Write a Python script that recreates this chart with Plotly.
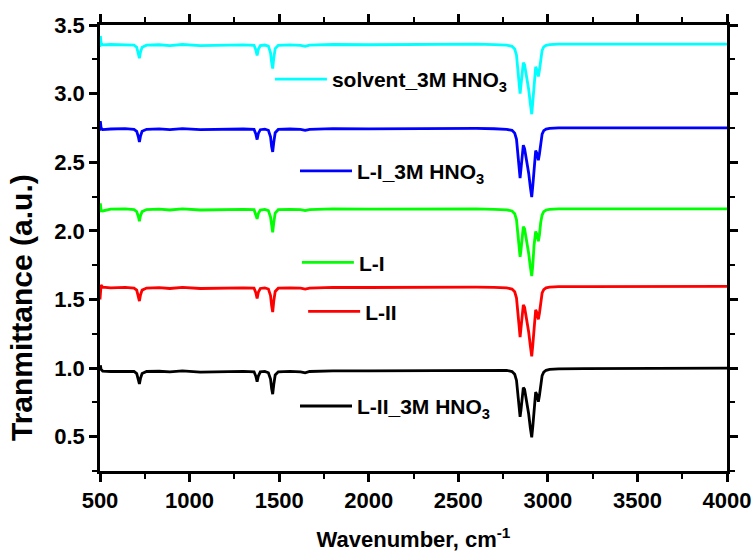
import plotly.graph_objects as go

wavenumber = [500, 502, 506, 515, 560, 640, 690, 705, 714, 720, 726, 735, 760, 830, 890, 960,
              1060, 1131, 1220, 1300, 1360, 1370, 1377, 1384, 1395, 1420, 1440, 1452, 1458, 1464,
              1470, 1478, 1495, 1560, 1620, 1645, 1670, 1800, 2000, 2200, 2400, 2600, 2700, 2770,
              2800, 2815, 2825, 2833, 2840, 2845, 2850, 2857, 2863, 2870, 2882, 2893, 2902, 2910,
              2916, 2923, 2932, 2940, 2947, 2953, 2960, 2968, 2977, 2990, 3010, 3060, 3200, 3500,
              3800, 4000]

solvent_3M = [3.34, 3.42, 3.37, 3.355, 3.358, 3.355, 3.353, 3.338, 3.298, 3.258, 3.303, 3.338, 3.353,
              3.356, 3.35, 3.358, 3.35, 3.352, 3.358, 3.355, 3.352, 3.318, 3.278, 3.323, 3.35, 3.354,
              3.346, 3.298, 3.228, 3.183, 3.258, 3.328, 3.352, 3.355, 3.352, 3.345, 3.353, 3.358,
              3.356, 3.358, 3.357, 3.36, 3.357, 3.353, 3.345, 3.325, 3.28, 3.19, 3.07, 3.00, 3.06,
              3.18, 3.225, 3.21, 3.13, 3.03, 2.93, 2.85, 2.94, 3.09, 3.195, 3.17, 3.125, 3.17, 3.26,
              3.315, 3.34, 3.352, 3.357, 3.36, 3.36, 3.361, 3.36, 3.36]

LI_3M = [2.73, 2.80, 2.75, 2.738, 2.742, 2.745, 2.74, 2.725, 2.685, 2.647, 2.69, 2.725, 2.74, 2.743,
         2.737, 2.745, 2.737, 2.739, 2.745, 2.742, 2.739, 2.705, 2.665, 2.71, 2.737, 2.741, 2.733,
         2.685, 2.615, 2.575, 2.645, 2.715, 2.739, 2.742, 2.739, 2.732, 2.74, 2.745, 2.743, 2.745,
         2.744, 2.746, 2.744, 2.74, 2.732, 2.712, 2.667, 2.577, 2.455, 2.384, 2.447, 2.568, 2.624,
         2.60, 2.52, 2.42, 2.32, 2.246, 2.33, 2.48, 2.585, 2.56, 2.515, 2.56, 2.65, 2.705, 2.73,
         2.742, 2.747, 2.75, 2.75, 2.751, 2.75, 2.75]

LI = [2.135, 2.20, 2.15, 2.145, 2.158, 2.16, 2.155, 2.14, 2.105, 2.07, 2.11, 2.14, 2.155, 2.158,
      2.152, 2.16, 2.152, 2.154, 2.16, 2.157, 2.154, 2.122, 2.087, 2.127, 2.152, 2.156, 2.148, 2.10,
      2.03, 1.99, 2.06, 2.13, 2.154, 2.157, 2.154, 2.147, 2.155, 2.16, 2.158, 2.16, 2.158, 2.16,
      2.157, 2.153, 2.145, 2.125, 2.08, 1.99, 1.87, 1.81, 1.86, 1.98, 2.03, 2.015, 1.935, 1.835,
      1.74, 1.67, 1.75, 1.895, 1.995, 1.97, 1.925, 1.97, 2.06, 2.115, 2.14, 2.152, 2.157, 2.16,
      2.16, 2.161, 2.16, 2.16]

LII = [1.50, 1.60, 1.605, 1.59, 1.585, 1.588, 1.583, 1.568, 1.528, 1.488, 1.533, 1.568, 1.583,
       1.586, 1.58, 1.588, 1.58, 1.582, 1.588, 1.585, 1.582, 1.548, 1.508, 1.553, 1.58, 1.584,
       1.576, 1.528, 1.455, 1.408, 1.488, 1.558, 1.582, 1.585, 1.582, 1.575, 1.583, 1.588, 1.587,
       1.589, 1.589, 1.59, 1.588, 1.584, 1.576, 1.556, 1.51, 1.42, 1.30, 1.226, 1.29, 1.41, 1.46,
       1.443, 1.363, 1.263, 1.163, 1.085, 1.17, 1.32, 1.425, 1.40, 1.355, 1.40, 1.49, 1.547,
       1.572, 1.585, 1.59, 1.593, 1.593, 1.594, 1.594, 1.595]

LII_3M = [0.985, 1.02, 0.99, 0.978, 0.975, 0.978, 0.975, 0.96, 0.92, 0.885, 0.925, 0.96, 0.975,
          0.977, 0.972, 0.979, 0.971, 0.973, 0.978, 0.976, 0.973, 0.94, 0.90, 0.942, 0.972, 0.976,
          0.966, 0.92, 0.85, 0.81, 0.88, 0.95, 0.973, 0.976, 0.972, 0.965, 0.975, 0.98, 0.98, 0.982,
          0.983, 0.986, 0.986, 0.983, 0.975, 0.955, 0.91, 0.82, 0.70, 0.645, 0.695, 0.81, 0.858,
          0.845, 0.765, 0.665, 0.565, 0.495, 0.575, 0.72, 0.825, 0.80, 0.755, 0.80, 0.89, 0.945,
          0.97, 0.984, 0.99, 0.994, 0.996, 0.998, 0.999, 1.0]

series_names = ["solvent_3M HNO<sub>3</sub>", "L-I_3M HNO<sub>3</sub>", "L-I", "L-II",
                "L-II_3M HNO<sub>3</sub>"]
series_values = [solvent_3M, LI_3M, LI, LII, LII_3M]
series_colors = ["#00FFFF", "#0000FF", "#00FF00", "#FF0000", "#000000"]
legend_ids = ["legend2", "legend3", "legend4", "legend5", "legend6"]
legend_pos = [(0.271, 0.878), (0.311, 0.672), (0.314, 0.467), (0.324, 0.357), (0.311, 0.145)]

x_ticks = [500, 1000, 1500, 2000, 2500, 3000, 3500, 4000]
y_ticks = [0.5, 1.0, 1.5, 2.0, 2.5, 3.0, 3.5]

FONT = "Liberation Sans, Arial, sans-serif"

fig = go.Figure()
for name, vals, col, lid in zip(series_names, series_values, series_colors, legend_ids):
    fig.add_trace(go.Scatter(x=wavenumber, y=vals, mode="lines", name=name, showlegend=True,
                             line=dict(color=col, width=2.8), legend=lid))

layout_legends = {}
for lid, (lx, ly) in zip(legend_ids, legend_pos):
    layout_legends[lid] = dict(x=lx, y=ly, xanchor="left", yanchor="middle", visible=True,
                               bgcolor="rgba(0,0,0,0)", borderwidth=0, itemwidth=52,
                               font=dict(family=FONT, size=21, color="black", weight="bold"))

axis_common = dict(showline=True, linecolor="black", linewidth=2.5, mirror="allticks",
                   ticks="outside", ticklen=8, tickwidth=2.5, tickcolor="black",
                   showgrid=False, zeroline=False, automargin=False,
                   tickfont=dict(family=FONT, size=22, color="black", weight="bold"))

fig.update_layout(
    width=753, height=552,
    margin=dict(l=100, r=26, t=25, b=81),
    paper_bgcolor="white", plot_bgcolor="white",
    showlegend=True,
    xaxis=dict(range=[500, 4000], tickvals=x_ticks, ticktext=[str(v) for v in x_ticks],
               minor=dict(dtick=250, ticklen=5, tickwidth=2, tickcolor="black", ticks="outside"),
               title=dict(text="Wavenumber, cm<sup>-1</sup>", standoff=22,
                          font=dict(family=FONT, size=22, color="black", weight="bold")),
               **axis_common),
    yaxis=dict(range=[0.25, 3.5], tickvals=y_ticks, ticktext=[f"{v:.1f}" for v in y_ticks],
               minor=dict(dtick=0.25, ticklen=5, tickwidth=2, tickcolor="black", ticks="outside"),
               **axis_common),
    annotations=[dict(text="Tranmittance (a.u.)", xref="paper", yref="paper",
                      x=-0.124, y=0.366, xanchor="center", yanchor="middle", textangle=-90,
                      showarrow=False,
                      font=dict(family=FONT, size=30, color="black", weight="bold"))],
    **layout_legends,
)

fig.write_html("out.html")
